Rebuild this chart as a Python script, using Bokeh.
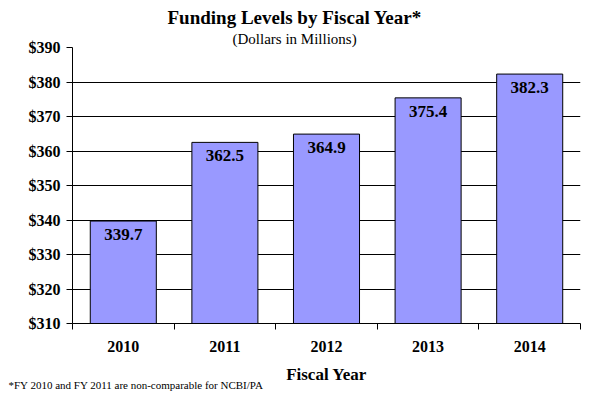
from bokeh.plotting import figure
from bokeh.models import (Range1d, FixedTicker, NumeralTickFormatter, Title,
                          ColumnDataSource)
from bokeh.core.properties import value
from bokeh.embed import file_html
from bokeh.resources import INLINE

years = ["2010", "2011", "2012", "2013", "2014"]
funding = [339.7, 362.5, 364.9, 375.4, 382.3]
y_ticks = [310, 320, 330, 340, 350, 360, 370, 380, 390]
title_text = "Funding Levels by Fiscal Year*"
subtitle_text = "(Dollars in Millions)"
x_label = "Fiscal Year"
footnote = "*FY 2010 and FY 2011 are non-comparable for NCBI/PA"

FONT = "Liberation Serif"

centers = [i + 0.5 for i in range(len(years))]
src = ColumnDataSource(dict(x=centers, top=funding,
                            lab=["%.1f" % v for v in funding]))

p = figure(width=591, height=393, output_backend="svg", toolbar_location=None,
           title=None, x_range=Range1d(0, len(years)),
           y_range=Range1d(y_ticks[0], y_ticks[-1]),
           min_border_left=72, min_border_right=11, min_border_top=47,
           min_border_bottom=70)
p.outline_line_color = None
p.background_fill_color = "white"

p.vbar(x="x", top="top", bottom=y_ticks[0], width=0.65, source=src,
       fill_color="#9999FF", line_color="black", line_width=1)
p.text(x="x", y="top", text="lab", source=src, text_align="center",
       text_baseline="top", y_offset=8, text_font=value(FONT),
       text_font_style="bold", text_font_size="17px", text_color="black")

# y axis
p.yaxis.ticker = FixedTicker(ticks=y_ticks)
p.yaxis.formatter = NumeralTickFormatter(format="$0")
p.yaxis.major_tick_in = 0
p.yaxis.major_tick_out = 6
p.yaxis.minor_tick_line_color = None
p.yaxis.axis_line_color = "black"
p.yaxis.major_tick_line_color = "black"
p.yaxis.major_label_text_font = FONT
p.yaxis.major_label_text_font_style = "bold"
p.yaxis.major_label_text_font_size = "16px"
p.yaxis.major_label_text_color = "black"
p.yaxis.major_label_standoff = 6

# x axis: labels at centers, tick marks at category boundaries
p.xaxis.ticker = FixedTicker(ticks=centers, minor_ticks=list(range(len(years) + 1)))
p.xaxis.major_label_overrides = {c: y for c, y in zip(centers, years)}
p.xaxis.major_tick_line_color = None
p.xaxis.minor_tick_in = 0
p.xaxis.minor_tick_out = 6
p.xaxis.minor_tick_line_color = "black"
p.xaxis.axis_line_color = "black"
p.xaxis.major_label_text_font = FONT
p.xaxis.major_label_text_font_style = "bold"
p.xaxis.major_label_text_font_size = "16px"
p.xaxis.major_label_text_color = "black"
p.xaxis.major_label_standoff = 11
p.xaxis.axis_label = x_label
p.xaxis.axis_label_text_font = FONT
p.xaxis.axis_label_text_font_style = "bold"
p.xaxis.axis_label_text_font_size = "17px"
p.xaxis.axis_label_text_color = "black"
p.xaxis.axis_label_standoff = 10

p.xgrid.visible = False
p.ygrid.ticker = FixedTicker(ticks=y_ticks[1:-1])
p.ygrid.grid_line_color = "black"
p.ygrid.grid_line_width = 1

p.add_layout(Title(text=subtitle_text, align="left", offset=160,
                   text_font=FONT, text_font_style="normal",
                   text_font_size="15px", text_color="black", standoff=2), "above")
p.add_layout(Title(text=title_text, align="left", offset=95,
                   text_font=FONT, text_font_style="bold",
                   text_font_size="19px", text_color="black", standoff=0), "above")

p.add_layout(Title(text=footnote, align="left", offset=-64, vertical_align="top",
                   text_font=FONT, text_font_style="normal",
                   text_font_size="11px", text_color="black", standoff=-16), "below")

open("out.html", "w").write(file_html(p, INLINE))
